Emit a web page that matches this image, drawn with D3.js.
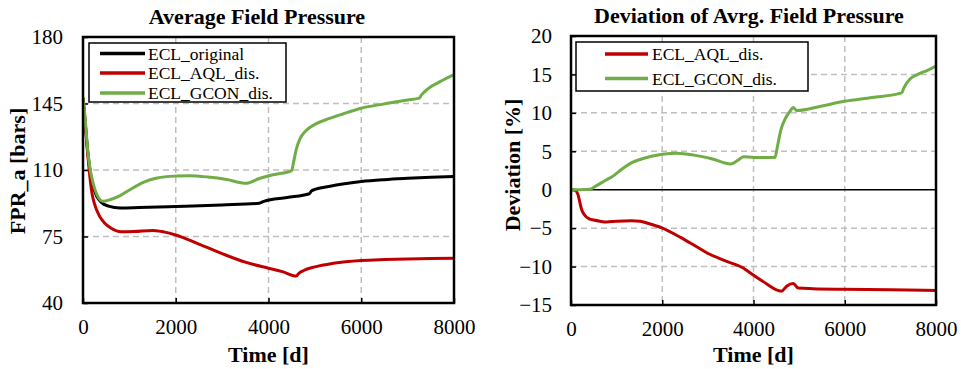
<!DOCTYPE html>
<html>
<head>
<meta charset="utf-8">
<script src="https://cdn.jsdelivr.net/npm/d3@7"></script>
<style>
  html, body { margin: 0; padding: 0; background: #fff; }
  svg { display: block; }
  text { font-family: "Liberation Serif", "Times New Roman", serif; fill: #000; }
</style>
</head>
<body>
<svg id="chart" width="961" height="369"></svg>
<script>
// ---------------- DATA ----------------
const xTicks = [0, 2000, 4000, 6000, 8000];
const leftYTicks = [40, 75, 110, 145, 180];
const rightYTicks = [-15, -10, -5, 0, 5, 10, 15, 20];

const leftSeriesNames = ["ECL_original", "ECL_AQL_dis.", "ECL_GCON_dis."];
const rightSeriesNames = ["ECL_AQL_dis.", "ECL_GCON_dis."];

// Average Field Pressure [bars]
const origT = [0, 50, 100, 150, 200, 300, 400, 550, 800, 1200, 2000, 3000, 3800, 3900, 4400, 4880, 4920, 5000, 5300, 5600, 6000, 6500, 7000, 7500, 8000];
const origV = [148, 134, 120, 110, 103, 96, 92.8, 91, 90, 90.2, 90.8, 91.6, 92.5, 93.5, 95.5, 97.5, 98.8, 99.8, 101.3, 102.6, 103.9, 104.9, 105.6, 106.2, 106.6];

const aqlT = [0, 50, 100, 150, 200, 250, 350, 470, 600, 826, 1100, 1500, 1700, 2000, 2500, 3000, 3500, 4000, 4300, 4600, 4650, 4750, 5000, 5400, 6000, 6500, 7000, 7500, 8000];
const aqlV = [148, 134, 119, 106, 97, 92, 86, 82, 79.5, 77.5, 77.6, 78.2, 77.6, 75.8, 71, 66, 61.5, 58.3, 56.5, 54.2, 55.5, 57, 59, 60.9, 62.4, 62.9, 63.2, 63.4, 63.5];

const gconT = [0, 40, 100, 150, 200, 300, 430, 600, 800, 1000, 1300, 1600, 2000, 2300, 2700, 3100, 3520, 3800, 4100, 4500, 4540, 4600, 4680, 4800, 5000, 5300, 5600, 6000, 6500, 7000, 7250, 7300, 7450, 7700, 8000];
const gconV = [148, 139, 121, 111, 105, 97, 93.5, 94.5, 96.5, 99.5, 103.5, 105.8, 106.8, 107, 106.3, 105, 103, 105.5, 107.5, 109.7, 114, 121, 126.5, 130.5, 134, 137, 139.5, 142.5, 144.8, 146.8, 147.8, 149.5, 153, 156.5, 160.2];

// Deviation of Avrg. Field Pressure [%]
const devAqlT = [0, 100, 150, 234, 300, 400, 500, 636, 782, 1000, 1330, 1512, 1700, 2002, 2400, 2718, 2974, 3400, 3777, 3814, 4200, 4617, 4727, 4872, 4982, 5300, 5968, 7000, 8000];
const devAqlV = [0, -0.1, -0.6, -2.6, -3.3, -3.8, -3.95, -4.1, -4.2, -4.1, -4.05, -4.1, -4.4, -5.0, -6.2, -7.3, -8.2, -9.3, -10.2, -10.35, -11.9, -13.2, -12.55, -12.2, -12.8, -12.88, -12.95, -13.0, -13.1];

const devGconT = [0, 200, 400, 550, 750, 928, 1100, 1293, 1600, 2002, 2316, 2700, 3100, 3500, 3650, 3780, 4000, 4471, 4520, 4600, 4700, 4800, 4872, 4946, 5500, 5990, 6600, 7248, 7300, 7430, 7600, 7800, 8000];
const devGconV = [0, 0, 0.05, 0.5, 1.2, 1.8, 2.6, 3.4, 4.1, 4.6, 4.75, 4.5, 4.0, 3.35, 3.8, 4.3, 4.2, 4.2, 5.5, 7.8, 9.3, 10.2, 10.7, 10.3, 10.9, 11.5, 12.0, 12.6, 13.3, 14.4, 15.0, 15.5, 16.1];

const colors = { "ECL_original": "#000000", "ECL_AQL_dis.": "#C00000", "ECL_GCON_dis.": "#70AD47" };

// ---------------- DRAW ----------------
const svg = d3.select("#chart");
svg.append("rect").attr("width", 961).attr("height", 369).attr("fill", "#fff");

const zip = (t, v) => t.map((d, i) => ({ t: d, v: v[i] }));

function panel(cfg) {
  const g = svg.append("g");
  const x = d3.scaleLinear().domain([0, 8000]).range([cfg.x0, cfg.x1]);
  const y = d3.scaleLinear().domain(cfg.yDomain).range([cfg.y1, cfg.y0]);

  // gridlines
  const grid = g.append("g");
  grid.selectAll("line.vx").data(xTicks.slice(1, -1)).join("line")
    .attr("x1", d => x(d)).attr("x2", d => x(d))
    .attr("y1", cfg.y0).attr("y2", cfg.y1)
    .attr("stroke", "#BFBFBF").attr("stroke-width", 1.5).attr("stroke-dasharray", "6,4");
  grid.selectAll("line.hy").data(cfg.yTicks.filter(d => d !== cfg.yDomain[0] && d !== cfg.yDomain[1] && d !== cfg.zeroLine)).join("line")
    .attr("x1", cfg.x0).attr("x2", cfg.x1)
    .attr("y1", d => y(d)).attr("y2", d => y(d))
    .attr("stroke", "#BFBFBF").attr("stroke-width", 1.5).attr("stroke-dasharray", "6,4");

  if (cfg.zeroLine !== undefined) {
    g.append("line").attr("x1", cfg.x0).attr("x2", cfg.x1)
      .attr("y1", y(cfg.zeroLine)).attr("y2", y(cfg.zeroLine))
      .attr("stroke", "#000").attr("stroke-width", 1.5);
  }

  // axes (inner ticks, labels)
  const xAxis = d3.axisBottom(x).tickValues(xTicks).tickSizeInner(-5).tickSizeOuter(0).tickPadding(13).tickFormat(d3.format("d"));
  const gx = g.append("g").attr("transform", `translate(0,${cfg.y1})`).call(xAxis);
  gx.select(".domain").remove();
  gx.selectAll("line").attr("stroke-width", 1.5);
  gx.selectAll("text").attr("font-size", 21).attr("font-family", "Liberation Serif").attr("dy", "0.71em").attr("y", 16);

  const yAxis = d3.axisLeft(y).tickValues(cfg.yTicks).tickSizeInner(-5).tickSizeOuter(0).tickPadding(20).tickFormat(d3.format("d"));
  const gy = g.append("g").attr("transform", `translate(${cfg.x0},0)`).call(yAxis);
  gy.select(".domain").remove();
  gy.selectAll("line").attr("stroke-width", 1.5);
  gy.selectAll("text").attr("font-size", 21).attr("font-family", "Liberation Serif").attr("x", cfg.yLabelX - cfg.x0);

  // series
  const line = d3.line().x(d => x(d.t)).y(d => y(d.v)).curve(d3.curveMonotoneX);
  const clipId = "clip" + cfg.id;
  g.append("clipPath").attr("id", clipId).append("rect")
    .attr("x", cfg.x0).attr("y", cfg.y0).attr("width", cfg.x1 - cfg.x0).attr("height", cfg.y1 - cfg.y0);
  const sg = g.append("g").attr("clip-path", `url(#${clipId})`);
  cfg.series.forEach(s => {
    sg.append("path").datum(zip(s.t, s.v))
      .attr("fill", "none").attr("stroke", colors[s.name]).attr("stroke-width", 3)
      .attr("stroke-linejoin", "round").attr("d", line);
  });

  // frame
  g.append("rect").attr("x", cfg.x0).attr("y", cfg.y0)
    .attr("width", cfg.x1 - cfg.x0).attr("height", cfg.y1 - cfg.y0)
    .attr("fill", "none").attr("stroke", "#000").attr("stroke-width", 2.5);

  // legend
  const L = cfg.legend;
  const lg = g.append("g");
  lg.append("rect").attr("x", L.x0).attr("y", L.y0).attr("width", L.x1 - L.x0).attr("height", L.y1 - L.y0)
    .attr("fill", "#fff").attr("stroke", "#000").attr("stroke-width", 1.5);
  cfg.legendNames.forEach((n, i) => {
    const yy = L.rowY[i];
    lg.append("line").attr("x1", L.lx0).attr("x2", L.lx1).attr("y1", yy).attr("y2", yy)
      .attr("stroke", colors[n]).attr("stroke-width", 3.5);
    lg.append("text").attr("x", L.tx).attr("y", yy + 6).attr("font-size", 17.5).text(n);
  });

  // titles
  g.append("text").attr("x", cfg.titleX).attr("y", cfg.titleY).attr("text-anchor", "middle")
    .attr("font-size", 22).attr("font-weight", "bold").text(cfg.title);
  g.append("text").attr("x", (cfg.x0 + cfg.x1) / 2).attr("y", 362).attr("text-anchor", "middle")
    .attr("font-size", 22).attr("font-weight", "bold").text("Time [d]");
  g.append("text").attr("transform", `translate(${cfg.yTitleX},${cfg.yTitleY}) rotate(-90)`)
    .attr("text-anchor", "middle").attr("font-size", 22).attr("font-weight", "bold").text(cfg.yTitle);
}

panel({
  id: "L", x0: 83, x1: 454, y0: 37, y1: 303, yDomain: [40, 180], yTicks: leftYTicks,
  yLabelX: 63,
  series: [
    { name: "ECL_original", t: origT, v: origV },
    { name: "ECL_AQL_dis.", t: aqlT, v: aqlV },
    { name: "ECL_GCON_dis.", t: gconT, v: gconV }
  ],
  legendNames: leftSeriesNames,
  legend: { x0: 89, x1: 286, y0: 43, y1: 102, lx0: 100, lx1: 145, tx: 148, rowY: [53.5, 73, 93] },
  title: "Average Field Pressure", titleX: 257, titleY: 24,
  yTitle: "FPR_a [bars]", yTitleX: 25, yTitleY: 171
});

panel({
  id: "R", x0: 571, x1: 936, y0: 36, y1: 305, yDomain: [-15, 20], yTicks: rightYTicks, zeroLine: 0,
  yLabelX: 552,
  series: [
    { name: "ECL_AQL_dis.", t: devAqlT, v: devAqlV },
    { name: "ECL_GCON_dis.", t: devGconT, v: devGconV }
  ],
  legendNames: rightSeriesNames,
  legend: { x0: 576, x1: 808, y0: 42, y1: 91, lx0: 605, lx1: 648, tx: 652, rowY: [54, 78.5] },
  title: "Deviation of Avrg. Field Pressure", titleX: 749, titleY: 23,
  yTitle: "Deviation [%]", yTitleX: 520, yTitleY: 165
});
</script>
</body>
</html>
